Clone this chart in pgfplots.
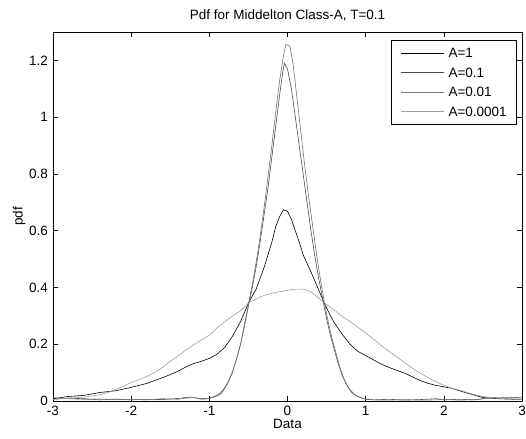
\documentclass[border=0pt]{standalone}
\usepackage{pgfplots}
\pgfplotsset{compat=1.18}
\usepackage{fontspec}
\setmainfont{Liberation Sans}
\begin{document}
\begin{tikzpicture}
\begin{axis}[
  at={(0,0)}, anchor=south west,
  scale only axis, width=469pt, height=369pt,
  xmin=-3, xmax=3, ymin=0, ymax=1.3,
  xtick={-3,-2,-1,0,1,2,3}, xticklabels={-3,-2,-1,0,1,2,3},
  ytick={0,0.2,0.4,0.6,0.8,1,1.2}, yticklabels={0,0.2,0.4,0.6,0.8,1,1.2},
  tick align=inside, major tick length=5pt,
  tick style={black, line width=0.5pt},
  axis line style={black, line width=0.6pt},
  font=\fontsize{13.5}{16}\selectfont,
  xticklabel style={inner sep=0pt, anchor=north, yshift=-5pt},
  yticklabel style={inner sep=0pt, anchor=east, xshift=-5pt},
  title={Pdf for Middelton Class-A, T=0.1},
  every axis title/.style={at={(axis description cs:0.5,1.0344)}, anchor=base, inner sep=0pt},
  xlabel={Data},
  every axis x label/.style={at={(axis description cs:0.5,-0.0475)}, anchor=north, inner sep=0pt},
  ylabel={pdf},
  every axis y label/.style={at={(axis description cs:-0.0586,0.5)}, rotate=90, anchor=south, inner sep=0pt},
  legend style={at={(0.9872,0.9783)}, anchor=north east, draw=black, line width=0.5pt, fill=white,
    inner xsep=9pt, inner ysep=8pt, row sep=9.8pt,
    font=\fontsize{13.5}{16}\selectfont,
    cells={anchor=west},
    nodes={inner sep=0pt, text height=9.7pt, text depth=0pt},
    /tikz/every odd column/.append style={column sep=4.7pt}},
  legend image code/.code={\draw[#1] (0pt,0pt) -- (42.6pt,0pt);},
  every axis plot/.append style={line width=0.6pt},
]
% A=1
\addplot[black] coordinates {
(-3.0,0.008) (-2.9,0.012) (-2.8,0.016) (-2.7,0.018) (-2.6,0.02) (-2.5,0.025) (-2.4,0.03) (-2.3,0.033)
(-2.2,0.036) (-2.1,0.042) (-2.0,0.048) (-1.9,0.055) (-1.8,0.062) (-1.7,0.072) (-1.6,0.082) (-1.5,0.093)
(-1.4,0.105) (-1.3,0.12) (-1.2,0.132) (-1.1,0.14) (-1.0,0.15) (-0.9,0.165) (-0.8,0.19) (-0.7,0.23)
(-0.6,0.28) (-0.5,0.345) (-0.4,0.395) (-0.3,0.47) (-0.2,0.56) (-0.15,0.615) (-0.1,0.65) (-0.05,0.674)
(0.0,0.668) (0.05,0.64) (0.1,0.6) (0.15,0.56) (0.2,0.515) (0.3,0.455) (0.37,0.41) (0.47,0.345)
(0.55,0.3) (0.6,0.275) (0.7,0.235) (0.8,0.2) (0.9,0.175) (1.0,0.16) (1.1,0.145) (1.2,0.13)
(1.3,0.118) (1.4,0.108) (1.5,0.098) (1.6,0.085) (1.7,0.072) (1.8,0.062) (1.9,0.055) (2.0,0.05)
(2.1,0.045) (2.2,0.036) (2.3,0.028) (2.4,0.02) (2.5,0.012) (2.6,0.01) (2.7,0.008) (2.8,0.007)
(2.9,0.006) (3.0,0.005)
};
\addlegendentry{A=1}
% A=0.1
\addplot[black!70] coordinates {
(-3.0,0.006) (-2.8,0.01) (-2.6,0.008) (-2.4,0.004) (-2.2,0.007) (-2.0,0.004) (-1.8,0.006) (-1.6,0.005)
(-1.4,0.009) (-1.25,0.014) (-1.1,0.008) (-1.0,0.01) (-0.9,0.02) (-0.85,0.03) (-0.8,0.048) (-0.75,0.072)
(-0.7,0.105) (-0.65,0.15) (-0.6,0.2) (-0.55,0.265) (-0.5,0.335) (-0.45,0.4) (-0.4,0.475) (-0.35,0.56)
(-0.3,0.655) (-0.25,0.75) (-0.2,0.86) (-0.15,0.97) (-0.1,1.08) (-0.06,1.16) (-0.04,1.19) (0.0,1.17)
(0.05,1.1) (0.1,1.0) (0.15,0.9) (0.2,0.8) (0.25,0.7) (0.3,0.6) (0.35,0.51) (0.4,0.43)
(0.45,0.36) (0.5,0.29) (0.55,0.23) (0.6,0.18) (0.65,0.13) (0.7,0.09) (0.75,0.06) (0.8,0.04)
(0.85,0.025) (0.9,0.016) (1.0,0.006) (1.1,0.004) (1.3,0.006) (1.5,0.003) (1.7,0.005) (1.9,0.008)
(2.0,0.004) (2.2,0.006) (2.4,0.004) (2.6,0.012) (2.8,0.01) (3.0,0.014)
};
\addlegendentry{A=0.1}
% A=0.01
\addplot[black!55] coordinates {
(-3.0,0.012) (-2.8,0.008) (-2.6,0.006) (-2.4,0.007) (-2.2,0.005) (-2.0,0.006) (-1.8,0.004) (-1.6,0.008)
(-1.4,0.006) (-1.3,0.01) (-1.2,0.012) (-1.1,0.006) (-1.0,0.008) (-0.9,0.018) (-0.85,0.025) (-0.8,0.045)
(-0.75,0.07) (-0.7,0.105) (-0.65,0.15) (-0.6,0.2) (-0.55,0.27) (-0.5,0.34) (-0.45,0.41) (-0.4,0.49)
(-0.35,0.58) (-0.3,0.68) (-0.25,0.79) (-0.2,0.9) (-0.15,1.02) (-0.1,1.13) (-0.05,1.22) (-0.02,1.256)
(0.03,1.25) (0.07,1.19) (0.12,1.07) (0.17,0.95) (0.22,0.83) (0.27,0.72) (0.32,0.62) (0.37,0.52)
(0.42,0.43) (0.47,0.35) (0.52,0.28) (0.57,0.22) (0.62,0.17) (0.67,0.12) (0.72,0.08) (0.77,0.05)
(0.82,0.03) (0.87,0.02) (0.95,0.01) (1.0,0.008) (1.1,0.004) (1.3,0.003) (1.5,0.005) (1.7,0.003)
(1.9,0.004) (2.0,0.006) (2.2,0.003) (2.4,0.005) (2.6,0.01) (2.8,0.012) (3.0,0.01)
};
\addlegendentry{A=0.01}
% A=0.0001
\addplot[black!38] coordinates {
(-3.0,0.006) (-2.8,0.01) (-2.6,0.014) (-2.4,0.022) (-2.3,0.03) (-2.2,0.04) (-2.1,0.052) (-2.0,0.065)
(-1.9,0.075) (-1.8,0.087) (-1.7,0.1) (-1.6,0.118) (-1.5,0.14) (-1.4,0.158) (-1.3,0.18) (-1.2,0.198)
(-1.1,0.215) (-1.0,0.232) (-0.9,0.258) (-0.8,0.28) (-0.7,0.3) (-0.6,0.318) (-0.5,0.345) (-0.4,0.36)
(-0.3,0.372) (-0.2,0.38) (-0.1,0.385) (0.0,0.39) (0.1,0.394) (0.2,0.394) (0.3,0.385) (0.4,0.362)
(0.5,0.34) (0.6,0.32) (0.7,0.298) (0.8,0.28) (0.9,0.26) (1.0,0.24) (1.1,0.218) (1.2,0.195)
(1.3,0.175) (1.4,0.155) (1.5,0.135) (1.6,0.115) (1.7,0.098) (1.8,0.082) (1.9,0.068) (2.0,0.055)
(2.1,0.045) (2.2,0.038) (2.3,0.03) (2.4,0.022) (2.5,0.016) (2.6,0.012) (2.8,0.008) (3.0,0.005)
};
\addlegendentry{A=0.0001}
\end{axis}
\pgfresetboundingbox
\path[use as bounding box] (-53pt,-37pt) rectangle (473pt,401pt);
\end{tikzpicture}
\end{document}
